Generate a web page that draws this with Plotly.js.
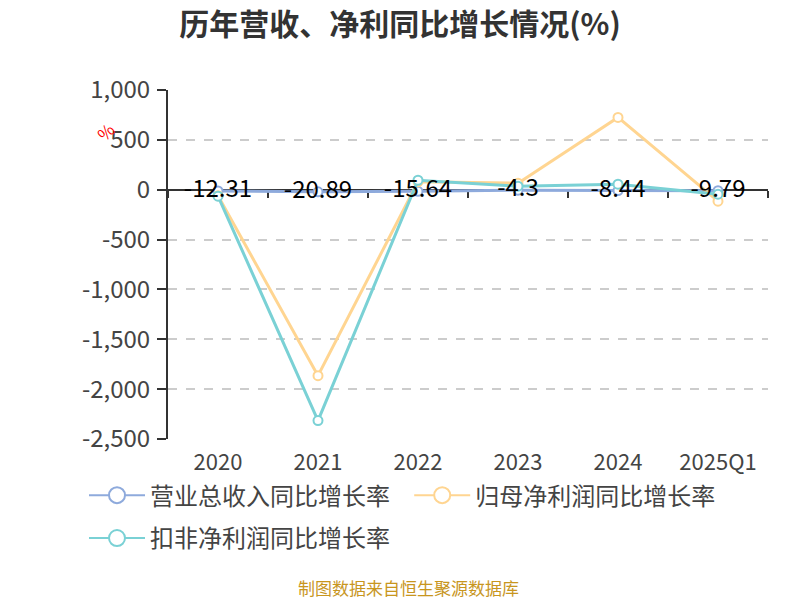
<!DOCTYPE html>
<html>
<head>
<meta charset="utf-8">
<script src="https://cdn.plot.ly/plotly-3.0.1.min.js"></script>
<style>html,body{margin:0;padding:0;background:#fff;}#chart{width:800px;height:600px;}</style>
</head>
<body>
<div id="chart"></div>
<script>
const categories = ['2020', '2021', '2022', '2023', '2024', '2025Q1'];
const revenueGrowth = [-12.31, -20.89, -15.64, -4.3, -8.44, -9.79];
const netProfitGrowth = [-60, -1865, 80, 65, 725, -115];
const deductedProfitGrowth = [-65, -2315, 95, 35, 55, -45];
const seriesNames = ['营业总收入同比增长率', '归母净利润同比增长率', '扣非净利润同比增长率'];
const yTickVals = [-2500, -2000, -1500, -1000, -500, 0, 500, 1000];
const yTickText = ['-2,500', '-2,000', '-1,500', '-1,000', '-500', '0', '500', '1,000'];

const FONT = '"Noto Sans CJK SC", "Noto Sans", sans-serif';
const colors = ['#8eaadc', '#ffd591', '#7ad1d5'];
const legendIds = ['legend', 'legend2', 'legend3'];

function lineTrace(y, color) {
  return {
    type: 'scatter', mode: 'lines+markers', x: categories, y: y,
    line: {color: color, width: 3},
    marker: {symbol: 'circle', size: 9, color: '#ffffff', line: {color: color, width: 2}},
    cliponaxis: false, hoverinfo: 'skip', showlegend: false
  };
}
function legendTrace(i) {
  return {
    type: 'scatter', mode: 'lines+markers', x: categories, y: categories.map(() => null),
    name: seriesNames[i], legend: legendIds[i],
    line: {color: colors[i], width: 2},
    marker: {symbol: 'circle', size: 18, color: '#ffffff', line: {color: colors[i], width: 2}},
    hoverinfo: 'skip', showlegend: true
  };
}

const traces = [
  legendTrace(0), legendTrace(1), legendTrace(2),
  lineTrace(revenueGrowth, colors[0]),
  lineTrace(netProfitGrowth, colors[1]),
  lineTrace(deductedProfitGrowth, colors[2]),
  {
    type: 'scatter', mode: 'text', x: categories, y: revenueGrowth,
    text: revenueGrowth.map(String), textposition: 'middle center',
    textfont: {family: FONT, size: 24, color: '#000000'},
    showlegend: false, hoverinfo: 'skip', cliponaxis: false
  },
  {
    type: 'scatter', mode: 'markers', x: categories, y: categories.map(() => null),
    xaxis: 'x2', yaxis: 'y', showlegend: false, hoverinfo: 'skip', marker: {opacity: 0}
  }
];

const legendBase = {
  orientation: 'h', xanchor: 'left', yanchor: 'middle',
  font: {family: FONT, size: 24, color: '#444444'},
  itemwidth: 56,
  bgcolor: 'rgba(0,0,0,0)', itemsizing: 'trace'
};

const layout = {
  width: 800, height: 600,
  margin: {l: 168, r: 32, t: 90, b: 161},
  paper_bgcolor: '#ffffff', plot_bgcolor: '#ffffff',
  font: {family: FONT, color: '#333333'},
  title: {
    text: '<b>历年营收、净利同比增长情况(%)</b>',
    font: {family: FONT, size: 30, color: '#333333'},
    x: 0.5, xanchor: 'center', y: 0.96, yanchor: 'middle'
  },
  xaxis: {
    type: 'category', categoryarray: categories, range: [-0.5, 5.5],
    showline: false, showgrid: false, zeroline: false, ticks: '',
    tickfont: {family: FONT, size: 22, color: '#444444'}, ticklabelstandoff: 8
  },
  xaxis2: {
    type: 'category', categoryarray: categories, range: [-0.5, 5.5],
    overlaying: 'x', anchor: 'free', position: 2500 / 3500, layer: 'below traces',
    showline: true, linecolor: '#333333', linewidth: 2,
    ticks: 'outside', tickson: 'boundaries', ticklen: 7, tickwidth: 2, tickcolor: '#333333',
    showticklabels: false, showgrid: false, zeroline: false
  },
  yaxis: {
    range: [-2500, 1000], tickvals: yTickVals, ticktext: yTickText,
    showline: true, linecolor: '#333333', linewidth: 2,
    ticks: 'outside', ticklen: 9, tickwidth: 2, tickcolor: '#333333',
    showgrid: true, gridcolor: '#cccccc', griddash: 'dash', gridwidth: 2,
    zeroline: false, layer: 'below traces',
    tickfont: {family: FONT, size: 24, color: '#444444'}, ticklabelstandoff: 2
  },
  legend: Object.assign({}, legendBase, {x: -0.14, y: -0.162}),
  legend2: Object.assign({}, legendBase, {x: 0.402, y: -0.162}),
  legend3: Object.assign({}, legendBase, {x: -0.14, y: -0.285}),
  annotations: [
    {
      text: '%', xref: 'paper', yref: 'paper', x: -0.105, y: 0.8825,
      xanchor: 'center', yanchor: 'middle',
      showarrow: false, textangle: -45,
      font: {family: FONT, size: 17, color: '#ff0000'}
    },
    {
      text: '制图数据来自恒生聚源数据库', xref: 'paper', yref: 'paper',
      x: 0.4, y: -0.426, xanchor: 'center', yanchor: 'middle', showarrow: false,
      font: {family: FONT, size: 17, color: '#c8961e'}
    }
  ]
};

Plotly.newPlot('chart', traces, layout, {displayModeBar: false, staticPlot: true});
</script>
</body>
</html>
